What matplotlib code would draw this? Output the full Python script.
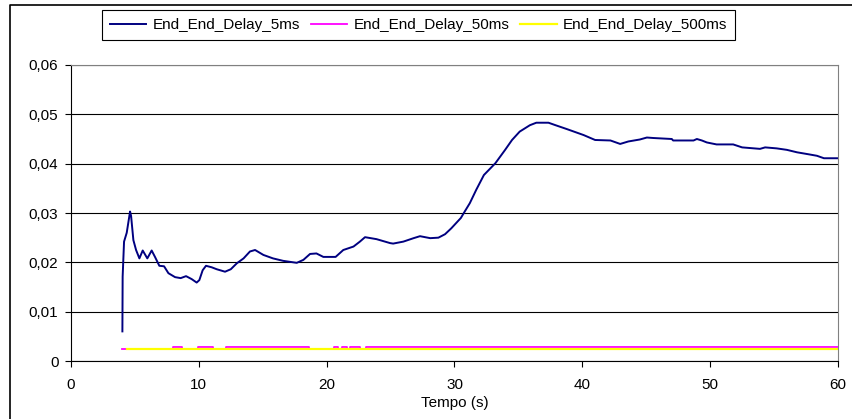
import matplotlib
matplotlib.use('Agg')
import matplotlib.pyplot as plt
from matplotlib.ticker import FuncFormatter
from matplotlib.lines import Line2D

plt.rcParams['font.family'] = ['Liberation Sans', 'DejaVu Sans']

# ---- datos
t5 = [4.02, 4.04, 4.15, 4.36, 4.62, 4.70, 4.88, 5.09, 5.35, 5.61, 5.97, 6.31, 6.57, 6.91,
      7.28, 7.62, 8.14, 8.58, 9.00, 9.44, 9.83, 10.04, 10.30, 10.56, 11.0, 11.4, 12.05,
      12.5, 12.97, 13.5, 14.0, 14.4, 15.05, 15.8, 16.6, 17.66, 18.18, 18.7, 19.2, 19.74,
      20.7, 21.3, 22.1, 22.6, 23.0, 23.9, 24.96, 25.2, 26.0, 26.8, 27.3, 28.1, 28.74,
      29.26, 29.75, 30.5, 30.8, 31.2, 31.7, 32.3, 33.2, 33.96, 34.5, 35.1, 35.9, 36.4,
      37.35, 37.9, 38.8, 40.1, 41.0, 42.2, 42.96, 43.6, 44.5, 45.05, 45.56, 47.0, 47.1,
      48.7, 48.96, 49.35, 49.74, 50.5, 51.8, 52.5, 53.9, 54.3, 55.2, 56.0, 56.8, 57.7,
      58.35, 58.9, 60.0]
d5 = [0.0060, 0.0171, 0.0242, 0.0260, 0.0303, 0.0294, 0.0245, 0.0225, 0.0208, 0.0224,
      0.0208, 0.0224, 0.0211, 0.0193, 0.0192, 0.0178, 0.0170, 0.0168, 0.0172, 0.0166,
      0.0159, 0.0164, 0.0184, 0.0193, 0.0190, 0.0186, 0.0181, 0.0186, 0.0198, 0.0208,
      0.0222, 0.0225, 0.0215, 0.0208, 0.0203, 0.0199, 0.0205, 0.0217, 0.0218, 0.0211,
      0.0211, 0.0225, 0.0232, 0.0242, 0.0251, 0.0247, 0.0239, 0.0238, 0.0242, 0.0249,
      0.0253, 0.0249, 0.0250, 0.0257, 0.0269, 0.0290, 0.0303, 0.0320, 0.0347, 0.0377,
      0.0401, 0.0428, 0.0448, 0.0465, 0.0478, 0.0483, 0.0483, 0.0478, 0.0470, 0.0458,
      0.0448, 0.0447, 0.0440, 0.0445, 0.0449, 0.0453, 0.0452, 0.0450, 0.0447, 0.0447,
      0.0450, 0.0447, 0.0443, 0.0439, 0.0439, 0.0433, 0.0430, 0.0433, 0.0431, 0.0428,
      0.0423, 0.0419, 0.0416, 0.0411, 0.0411]

t50 = [4.0, 8.0, 8.7, 9.9, 11.1, 12.1, 18.65, 20.6, 20.9, 21.2, 21.6, 21.8, 22.6, 23.1, 60.0]
d50 = [0.0025, 0.0028, 0.0025, 0.0028, 0.0025, 0.0028, 0.0025, 0.0028, 0.0025, 0.0028,
       0.0025, 0.0028, 0.0025, 0.0028, 0.0028]

t500 = [4.35, 60.0]
d500 = [0.00248, 0.00248]

labels = ['End_End_Delay_5ms', 'End_End_Delay_50ms', 'End_End_Delay_500ms']

fig = plt.figure(figsize=(8.53, 4.19), dpi=100)
ax = fig.add_axes([71/853, 1 - 361/419, (838 - 71)/853, (361 - 65)/419])

ax.plot(t5, d5, color='#000080', lw=1.4, label=labels[0])
ax.plot(t50, d50, color='#FF00FF', lw=1.3, drawstyle='steps-post', label=labels[1])
ax.plot(t500, d500, color='#FFFF00', lw=1.6, label=labels[2])

ax.set_xlim(0, 60)
ax.set_ylim(0, 0.06)
ax.set_xticks(range(0, 61, 10))
ax.set_yticks([0, 0.01, 0.02, 0.03, 0.04, 0.05, 0.06])
ax.yaxis.set_major_formatter(FuncFormatter(lambda v, p: '0' if v == 0 else ('%.2f' % v).replace('.', ',')))
ax.grid(axis='y', color='black', lw=0.8)
ax.set_axisbelow(True)
ax.tick_params(direction='out', length=4, labelsize=11, color='black')
ax.tick_params(axis='x', pad=8)
ax.tick_params(axis='y', pad=5)
ax.spines['top'].set_color('#808080')
ax.spines['right'].set_color('#808080')
ax.spines['left'].set_color('black')
ax.spines['bottom'].set_color('black')
ax.set_xlabel('Tempo (s)', fontsize=11, labelpad=3)

leg = ax.legend(loc='center', bbox_to_anchor=((99 + 738) / 2 / 853, 1 - 25 / 419),
                bbox_transform=fig.transFigure, ncol=3, fontsize=11, frameon=True,
                fancybox=False, edgecolor='black', framealpha=1, borderpad=0.5,
                handlelength=2.4, columnspacing=0.7, handletextpad=0.4)
leg.get_frame().set_linewidth(0.8)

# marco exterior del grafico
fig.add_artist(Line2D([10/853, 10/853, 1], [0, 1 - 5/419, 1 - 5/419], color='black', lw=1.2))

fig.savefig('out.png', dpi=100)
